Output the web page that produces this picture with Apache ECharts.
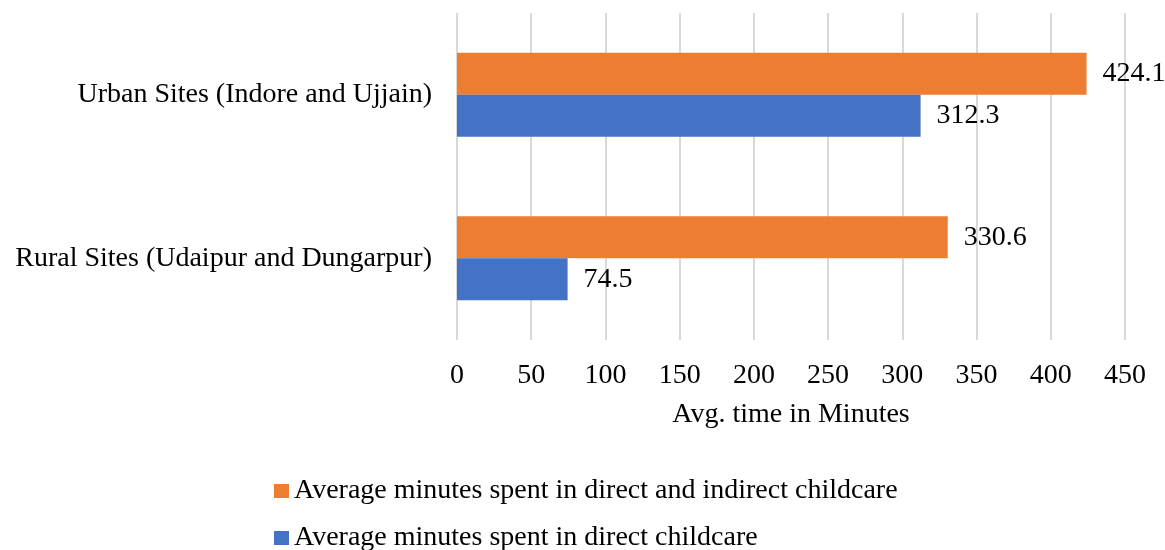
<!DOCTYPE html>
<html><head><meta charset="utf-8">
<script src="https://cdn.jsdelivr.net/npm/echarts@6/dist/echarts.min.js"></script>
<style>html,body{margin:0;padding:0;background:#fff}#c{width:1165px;height:550px}</style>
</head><body><div id="c"></div>
<script>
const categories = ["Rural Sites (Udaipur and Dungarpur)", "Urban Sites (Indore and Ujjain)"];
const seriesNames = ["Average minutes spent in direct and indirect childcare", "Average minutes spent in direct childcare"];
const directIndirect = [330.6, 424.1];
const direct = [74.5, 312.3];
const xTicks = [0, 450, 50];
const FONT = "Liberation Serif";
const FS = 28;
const legendBase = {
  orient: 'horizontal', left: 269, icon: 'rect', itemWidth: 15, itemHeight: 14, itemGap: 10,
  textStyle: {fontFamily: FONT, fontSize: FS, color: '#000', padding: [0,0,0,0]}
};
const chart = echarts.init(document.getElementById('c'));
chart.setOption({
  animation: false,
  textStyle: {fontFamily: FONT, color: '#000'},
  grid: {left: 457, right: 40, top: 13, bottom: 210, containLabel: false},
  legend: [
    Object.assign({}, legendBase, {data: [seriesNames[0]], top: 472}),
    Object.assign({}, legendBase, {data: [seriesNames[1]], top: 519})
  ],
  xAxis: {
    type: 'value', min: xTicks[0], max: xTicks[1], interval: xTicks[2],
    name: 'Avg. time in Minutes', nameLocation: 'middle', nameGap: 61,
    nameTextStyle: {fontFamily: FONT, fontSize: FS, color: '#000'},
    axisLine: {show: false}, axisTick: {show: false},
    axisLabel: {fontFamily: FONT, fontSize: FS, color: '#000', margin: 22},
    splitLine: {lineStyle: {color: '#d9d9d9', width: 2}}
  },
  yAxis: {
    type: 'category', data: categories,
    axisLine: {show: false}, axisTick: {show: false},
    axisLabel: {fontFamily: FONT, fontSize: FS, color: '#000', margin: 25}
  },
  series: [
    {name: seriesNames[0], type: 'bar', data: directIndirect, barWidth: 42, barGap: '0%',
     itemStyle: {color: '#ed7d31'},
     label: {show: true, position: 'right', distance: 16, fontFamily: FONT, fontSize: FS, color: '#000'}},
    {name: seriesNames[1], type: 'bar', data: direct, barWidth: 42, barGap: '0%',
     itemStyle: {color: '#4472c4'},
     label: {show: true, position: 'right', distance: 16, fontFamily: FONT, fontSize: FS, color: '#000'}}
  ]
});
</script></body></html>
